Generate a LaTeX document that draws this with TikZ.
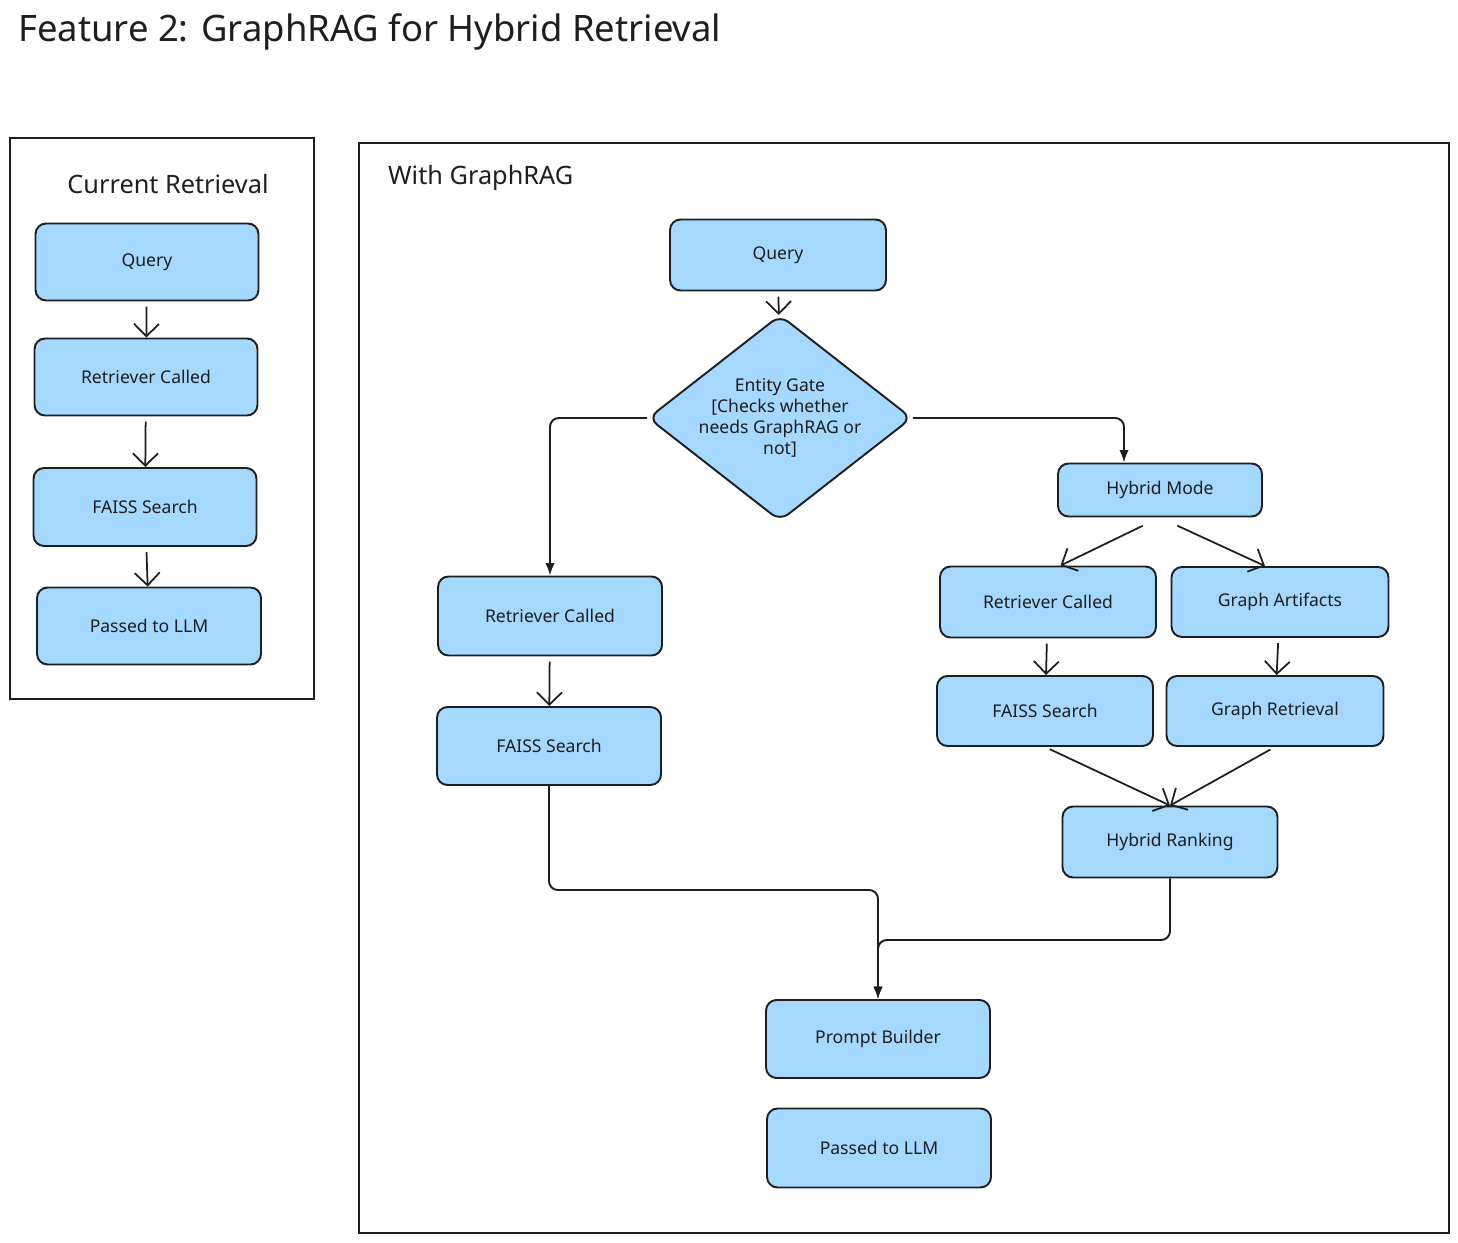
\documentclass[tikz,border=0pt]{standalone}
\usepackage{fontspec}
\setmainfont{Noto Sans}
\usetikzlibrary{shapes.geometric,arrows.meta}
\definecolor{boxblue}{HTML}{A5D8FF}
\definecolor{ink}{HTML}{1E1E1E}
\tikzset{
	flowbox/.style={draw=ink, line width=1.1pt, fill=boxblue, rounded corners=6pt, font=\normalsize, text=ink},
	gate/.style={draw=ink, line width=1.1pt, fill=boxblue, diamond, aspect=1.28, rounded corners=6pt, font=\normalsize, text=ink, align=center, inner sep=0pt, minimum width=5cm, minimum height=3.9cm},
	frame/.style={draw=ink, line width=1.1pt},
	flow/.style={draw=ink, line width=1pt, shorten <=3pt, -{Straight Barb[length=2.5mm]}},
	elbow/.style={draw=ink, line width=1.1pt, rounded corners=5pt, -{Latex[length=2.5mm]}}
}
\begin{document}
\begin{tikzpicture}[x=0.02cm, y=-0.02cm]
	\useasboundingbox (0,0) rectangle (1458,1243);
	\node[anchor=west, font=\huge, text=ink] (title) at (12,32) {Feature 2: GraphRAG for Hybrid Retrieval};

	% current retrieval
	\draw[frame] (10,138) rectangle (314,699);
	\node[font=\Large, text=ink] (curtitle) at (168,184) {Current Retrieval};
	\node[flowbox, minimum width=4.46cm, minimum height=1.54cm] (cq) at (147,262) {Query};
	\node[flowbox, minimum width=4.46cm, minimum height=1.54cm] (cr) at (146,377) {Retriever Called};
	\node[flowbox, minimum width=4.46cm, minimum height=1.56cm] (cf) at (145,507) {FAISS Search};
	\node[flowbox, minimum width=4.48cm, minimum height=1.54cm] (cl) at (149,626) {Passed to LLM};
	\draw[flow] (cq) -- (cr);
	\draw[flow] (cr) -- (cf);
	\draw[flow] (cf) -- (cl);

	% with graphrag
	\draw[frame] (359,143) rectangle (1449,1233);
	\node[anchor=west, font=\Large, text=ink] (gtitle) at (382,178) {With GraphRAG};
	\node[flowbox, minimum width=4.32cm, minimum height=1.42cm] (q) at (778,255) {Query};
	\node[gate] (gate) at (780,418) {Entity Gate\\{[}Checks whether\\needs GraphRAG or\\not{]}};
	\node[flowbox, minimum width=4.08cm, minimum height=1.06cm] (hm) at (1160,490) {Hybrid Mode};
	\node[flowbox, minimum width=4.48cm, minimum height=1.58cm] (r1) at (550,616) {Retriever Called};
	\node[flowbox, minimum width=4.48cm, minimum height=1.56cm] (f1) at (549,746) {FAISS Search};
	\node[flowbox, minimum width=4.32cm, minimum height=1.42cm] (r2) at (1048,602) {Retriever Called};
	\node[flowbox, minimum width=4.34cm, minimum height=1.4cm] (ga) at (1280,602) {Graph Artifacts};
	\node[flowbox, minimum width=4.32cm, minimum height=1.4cm] (f2) at (1045,711) {FAISS Search};
	\node[flowbox, minimum width=4.34cm, minimum height=1.4cm] (gr) at (1275,711) {Graph Retrieval};
	\node[flowbox, minimum width=4.3cm, minimum height=1.42cm] (hr) at (1170,842) {Hybrid Ranking};
	\node[flowbox, minimum width=4.48cm, minimum height=1.56cm] (pb) at (878,1039) {Prompt Builder};
	\node[flowbox, minimum width=4.48cm, minimum height=1.58cm] (pl) at (879,1148) {Passed to LLM};

	% gate
	\draw[flow] (q) -- (gate);
	\draw[elbow] (gate.west) -| (r1.north);
	\draw[elbow] (gate.east) -| ([xshift=-0.72cm]hm.north);
	% hybrid branch
	\draw[flow] ([xshift=-0.25cm,yshift=-0.12cm]hm.south) -- ([xshift=0.25cm]r2.north);
	\draw[flow] ([xshift=0.25cm,yshift=-0.12cm]hm.south) -- ([xshift=-0.3cm]ga.north);
	\draw[flow] (r1) -- (f1);
	\draw[flow] (r2) -- (f2);
	\draw[flow] (ga) -- (gr);
	\draw[flow] (f2.south) -- (hr.north);
	\draw[flow] (gr.south) -- (hr.north);
	% merge
	\draw[elbow] (f1.south) |- (878,890) -- (pb.north);
	\draw[elbow] (hr.south) |- (878,940) -- (pb.north);
\end{tikzpicture}
\end{document}
